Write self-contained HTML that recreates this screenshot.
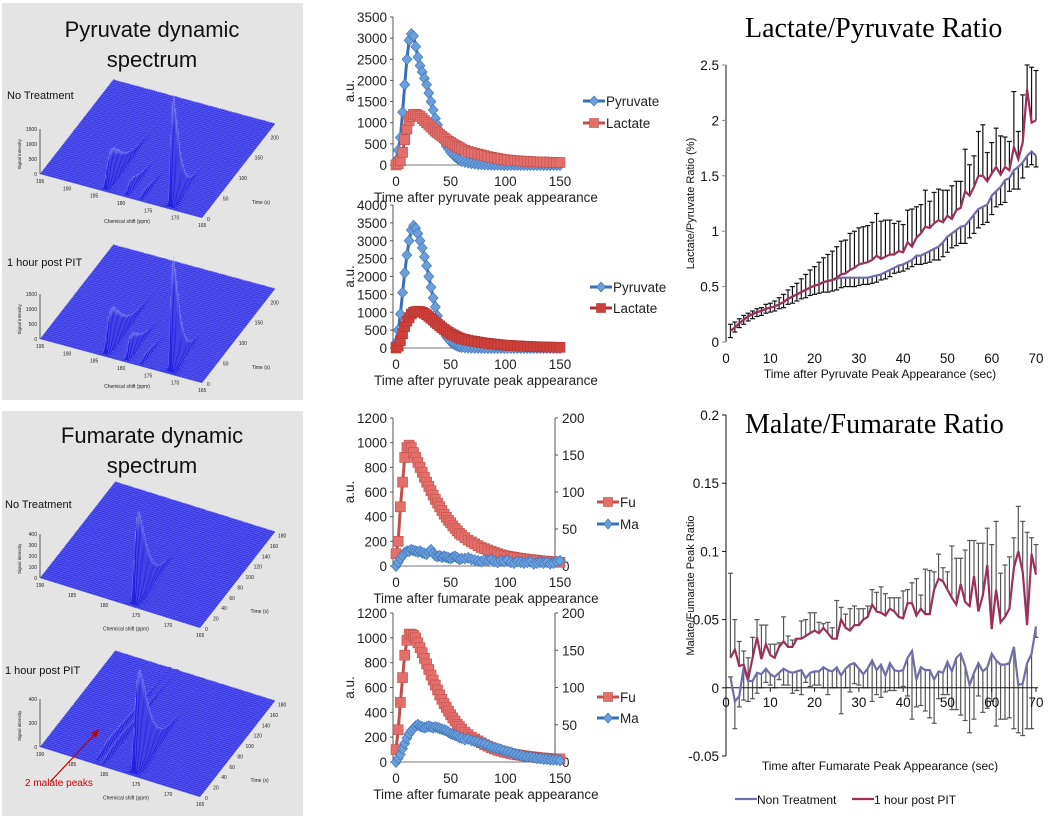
<!DOCTYPE html>
<html><head><meta charset="utf-8">
<style>
html,body{margin:0;padding:0;background:#fff;}
svg{display:block;font-family:"Liberation Sans",Arial,sans-serif;}
</style></head>
<body>
<svg id="fig" width="1057" height="816" viewBox="0 0 1057 816" xmlns="http://www.w3.org/2000/svg">
  <rect x="2" y="3" width="301" height="397" fill="#e4e4e4"/>
  <rect x="2" y="411" width="301" height="405" fill="#e4e4e4"/>
  <text x="152" y="37" font-size="22" text-anchor="middle" fill="#111">Pyruvate dynamic</text>
  <text x="152" y="67" font-size="22" text-anchor="middle" fill="#111">spectrum</text>
  <text x="152" y="443" font-size="22" text-anchor="middle" fill="#111">Fumarate dynamic</text>
  <text x="152" y="473" font-size="22" text-anchor="middle" fill="#111">spectrum</text>
  <text x="7" y="99" font-size="11" fill="#111">No Treatment</text>
  <text x="7" y="266" font-size="11" fill="#111">1 hour post PIT</text>
  <text x="5" y="508" font-size="11" fill="#111">No Treatment</text>
  <text x="5" y="674" font-size="11" fill="#111">1 hour post PIT</text>
  <g id="spectra"></g>
  <g id="mid"></g>
  <g id="ratio"></g>
  <text x="745" y="37" font-size="28" font-family="Liberation Serif,serif" fill="#000">Lactate/Pyruvate Ratio</text>
  <text x="745" y="433" font-size="28" font-family="Liberation Serif,serif" fill="#000">Malate/Fumarate Ratio</text>
</svg>
<script>
// ---------- data: middle charts ----------
const timeGrid = [0,2,4,6,8,10,12,14,16,18,20,22,24,26,28,30,32,34,36,38,40,42,44,46,48,50,52,54,56,58,60,63,66,69,72,75,78,81,84,87,90,93,96,99,102,105,108,111,114,117,120,123,126,129,132,135,138,141,144,147,150];
const pyruvate1 = [100,350,650,1250,1900,2500,2950,3100,3050,2800,2550,2350,2200,2050,1900,1700,1500,1300,1100,950,800,650,550,450,380,300,250,200,160,120,90,70,55,40,30,20,15,10,8,5,3,2,1,0,0,0,0,0,0,0,0,0,0,0,0,0,0,0,0,0,0];
const lactate1 = [0,30,100,300,600,850,1050,1150,1200,1200,1180,1150,1100,1050,1000,950,900,850,800,760,720,680,640,600,560,530,500,470,440,410,380,350,320,300,280,260,240,220,200,185,170,155,140,130,120,110,105,100,95,90,85,80,78,75,72,70,68,65,63,60,60];
const pyruvate2 = [150,500,950,1550,2100,2600,3000,3300,3420,3350,3200,3000,2800,2550,2300,2000,1700,1400,1150,900,700,550,420,320,250,180,130,90,60,40,25,15,10,5,3,1,0,0,0,0,0,0,0,0,0,0,0,0,0,0,0,0,0,0,0,0,0,0,0,0,0];
const lactate2 = [0,50,200,400,600,750,850,950,1000,1020,1030,1020,1000,970,930,880,830,780,720,670,620,570,520,480,440,400,370,340,310,280,260,240,220,200,185,170,155,140,130,120,110,100,90,80,75,70,65,60,55,50,45,40,38,35,32,30,28,25,22,20,20];
const fumarate1 = [100,200,480,680,880,960,980,960,920,880,840,800,760,720,680,645,610,575,540,510,480,450,420,395,370,350,325,305,285,265,250,230,210,195,180,165,150,140,130,120,110,100,92,85,80,75,70,66,62,58,55,52,49,46,43,40,38,36,34,32,30];
const fumarate2 = [100,260,480,680,860,980,1030,1030,1020,1000,960,920,880,835,790,745,700,660,620,580,540,505,470,440,410,380,355,330,305,285,265,240,220,200,185,170,155,140,128,116,105,95,88,80,74,68,62,58,54,50,46,43,40,37,34,32,30,28,26,25,25];
const malate1 = [0,5,10,14,18,20,20,22,21,20,19,20,18,17,16,19,22,17,14,13,14,12,13,12,11,10,12,13,11,9,10,10,11,9,8,7,6,8,7,9,6,5,7,6,8,5,4,6,5,4,5,6,3,4,5,4,5,3,4,6,7];
const malate2 = [0,5,10,18,25,32,38,42,45,48,50,48,47,46,47,48,47,46,47,46,45,44,43,42,40,38,37,36,35,33,32,30,31,29,28,27,25,24,22,20,19,18,17,15,14,13,11,10,9,8,7,7,6,5,5,4,4,3,3,3,2];
const pyrTicks1 = [0,500,1000,1500,2000,2500,3000,3500];
const pyrTicks2 = [0,500,1000,1500,2000,2500,3000,3500,4000];
const fumTicks = [0,200,400,600,800,1000,1200];
const malTicks = [0,50,100,150,200];
const timeTicks = [0,50,100,150];
// ---------- data: ratio charts ----------
const lpPIT = [0.10,0.13,0.17,0.20,0.23,0.25,0.27,0.28,0.30,0.31,0.32,0.34,0.36,0.39,0.41,0.43,0.45,0.47,0.49,0.51,0.52,0.54,0.55,0.56,0.58,0.61,0.62,0.65,0.67,0.70,0.71,0.72,0.74,0.78,0.75,0.77,0.79,0.79,0.82,0.81,0.90,0.86,0.94,0.98,1.04,1.03,1.07,1.10,1.08,1.14,1.11,1.19,1.21,1.36,1.32,1.40,1.50,1.50,1.45,1.52,1.58,1.51,1.58,1.55,1.76,1.65,1.80,2.28,1.98,2.00];
const lpPITerr = [0.06,0.05,0.04,0.04,0.03,0.03,0.03,0.03,0.04,0.04,0.05,0.06,0.07,0.08,0.09,0.10,0.12,0.14,0.16,0.17,0.20,0.22,0.24,0.26,0.28,0.30,0.30,0.33,0.33,0.33,0.33,0.33,0.34,0.38,0.34,0.33,0.31,0.28,0.27,0.25,0.29,0.34,0.28,0.26,0.33,0.24,0.28,0.28,0.29,0.23,0.30,0.26,0.24,0.38,0.28,0.28,0.40,0.46,0.26,0.28,0.35,0.35,0.27,0.26,0.50,0.25,0.43,0.22,0.50,0.45];
const lpNon = [0.10,0.13,0.17,0.20,0.23,0.25,0.27,0.28,0.30,0.31,0.32,0.34,0.36,0.39,0.41,0.43,0.45,0.47,0.49,0.51,0.52,0.54,0.55,0.56,0.57,0.58,0.58,0.58,0.58,0.58,0.58,0.58,0.59,0.60,0.61,0.63,0.65,0.67,0.69,0.70,0.72,0.74,0.78,0.78,0.80,0.82,0.84,0.86,0.90,0.95,0.98,1.01,1.04,1.05,1.10,1.15,1.20,1.22,1.24,1.32,1.36,1.40,1.46,1.48,1.55,1.58,1.62,1.68,1.72,1.68];
const lpNonErr = [0.06,0.04,0.04,0.04,0.04,0.04,0.04,0.04,0.04,0.04,0.04,0.04,0.05,0.05,0.06,0.06,0.06,0.07,0.07,0.08,0.08,0.09,0.10,0.10,0.10,0.09,0.08,0.08,0.08,0.07,0.06,0.06,0.06,0.06,0.05,0.06,0.06,0.05,0.06,0.06,0.06,0.06,0.08,0.08,0.09,0.10,0.10,0.12,0.13,0.14,0.13,0.14,0.15,0.16,0.16,0.17,0.17,0.16,0.16,0.17,0.14,0.16,0.20,0.12,0.17,0.20,0.14,0.10,0.12,0.10];
const mfPIT = [0.022,0.028,0.016,0.017,0.006,0.022,0.037,0.021,0.032,0.024,0.022,0.030,0.034,0.030,0.030,0.036,0.036,0.038,0.040,0.042,0.040,0.044,0.040,0.036,0.036,0.050,0.044,0.042,0.046,0.046,0.050,0.052,0.061,0.056,0.055,0.053,0.058,0.056,0.052,0.051,0.062,0.062,0.053,0.058,0.054,0.054,0.072,0.080,0.078,0.072,0.066,0.061,0.076,0.063,0.060,0.082,0.056,0.068,0.090,0.043,0.072,0.048,0.052,0.058,0.088,0.100,0.085,0.046,0.098,0.083];
const mfPITerr = [0.062,0.022,0.018,0.010,0.016,0.015,0.013,0.025,0.014,0.008,0.010,0.003,0.018,0.008,0.005,0.000,0.013,0.012,0.015,0.013,0.008,0.003,0.008,0.008,0.028,0.009,0.010,0.016,0.014,0.012,0.008,0.008,0.011,0.014,0.019,0.016,0.008,0.010,0.014,0.020,0.010,0.015,0.027,0.010,0.033,0.032,0.013,0.018,0.010,0.013,0.038,0.034,0.019,0.038,0.048,0.026,0.050,0.038,0.027,0.062,0.050,0.036,0.038,0.038,0.022,0.033,0.037,0.068,0.012,0.022];
const mfNon = [0.008,-0.010,-0.006,0.015,0.005,0.005,0.011,0.010,0.014,0.010,0.008,0.011,0.014,0.012,0.011,0.012,0.013,0.007,0.011,0.012,0.012,0.015,0.013,0.012,0.015,0.009,0.014,0.017,0.018,0.014,0.010,0.014,0.020,0.013,0.017,0.009,0.018,0.013,0.012,0.013,0.022,0.027,0.006,0.015,0.013,0.013,0.006,0.012,0.011,0.019,0.012,0.022,0.025,0.016,0.002,0.011,0.018,0.012,0.015,0.025,0.020,0.017,0.017,0.018,0.030,0.002,0.003,0.018,0.025,0.045];
const mfNonErr = [0.000,0.020,0.008,0.024,0.015,0.013,0.015,0.010,0.010,0.008,0.008,0.005,0.012,0.010,0.015,0.014,0.018,0.003,0.010,0.010,0.010,0.015,0.018,0.012,0.015,0.028,0.014,0.020,0.015,0.012,0.010,0.014,0.030,0.018,0.024,0.012,0.020,0.015,0.012,0.012,0.028,0.050,0.020,0.028,0.030,0.035,0.032,0.020,0.016,0.024,0.028,0.038,0.045,0.040,0.035,0.034,0.024,0.030,0.030,0.035,0.048,0.040,0.040,0.040,0.060,0.035,0.038,0.048,0.055,0.008];
const lpTicks = [0,0.5,1,1.5,2,2.5];
const lpTickLabels = ["0","0.5","1","1.5","2","2.5"];
const mfTicks = [-0.05,0,0.05,0.1,0.15,0.2];
const mfTickLabels = ["-0.05","0","0.05","0.1","0.15","0.2"];
const ratioXTicks = [0,10,20,30,40,50,60,70];

const NS = "http://www.w3.org/2000/svg";
function mk(parent, tag, attrs, txt){
  const e = document.createElementNS(NS, tag);
  for (const k in attrs) e.setAttribute(k, attrs[k]);
  if (txt !== undefined) e.textContent = txt;
  parent.appendChild(e);
  return e;
}

// ---------- 3D spectra (decorative rendering) ----------
const specG = document.getElementById('spectra');
function spectrum(name, FL, fv, tv, peaks, ticksS, ticksT, sigTicks, sigScale){
  const g = mk(specG, 'g', {});
  
  
  const FR = [FL[0]+fv[0], FL[1]+fv[1]];
  const plane = mk(g, 'polygon', {points:`${FL[0]},${FL[1]} ${FR[0]},${FR[1]} ${FR[0]+tv[0]},${FR[1]+tv[1]} ${FL[0]+tv[0]},${FL[1]+tv[1]}`, fill:'#2a2ae6'});
  
  
  const n = 60;
  for (let j = n-1; j >= 0; j--) {
    const t = j/(n-1);
    const pts = [];
    const base = [];
    for (let i = 0; i <= 160; i++) {
      const u = i/160;
      let h = 1.0*Math.abs(Math.sin(i*1.7+j*2.3));
      for (const p of peaks) {
        const tt = t/p.tp;
        const f = tt*Math.exp(1-tt);
        const d = (u-p.u)/p.w;
        h += p.A*f*(0.8*Math.exp(-d*d) + 0.2/(1+d*d));
      }
      const bx = FL[0]+u*fv[0]+t*tv[0], by = FL[1]+u*fv[1]+t*tv[1];
      pts.push((bx).toFixed(1)+','+(by-h).toFixed(1));
      base.unshift(bx.toFixed(1)+','+by.toFixed(1));
    }
    const poly = mk(g, 'polygon', {points: pts.concat(base).join(' '), fill:'#2222e0', stroke:'#dcdcff', 'stroke-width':'0.3', 'stroke-opacity':'0.6'});
    
    
  }
  const ax = mk(g, 'line', {x1:FL[0], y1:FL[1], x2:FL[0], y2:FL[1]-sigScale*sigTicks[sigTicks.length-1].v, stroke:'#222', 'stroke-width':0.7});
  
  
  for (const s of sigTicks) {
    const y = FL[1]-sigScale*s.v;
    const tl = mk(g, 'text', {x:FL[0]-3, y:y+2, 'font-size':5, 'text-anchor':'end', fill:'#222'}, s.l);
    
    
  }
  const yl = mk(g, 'text', {x:0, y:0, 'font-size':4.5, fill:'#222', transform:`translate(${FL[0]-19},${FL[1]-sigScale*sigTicks[sigTicks.length-1].v/2+18}) rotate(-90)`}, 'Signal intensity');
  
  
  for (const s of ticksS) {
    const x = FL[0]+s.u*fv[0], y = FL[1]+s.u*fv[1];
    const tl = mk(g, 'text', {x:x-4, y:y+9, 'font-size':5, fill:'#222'}, s.l);
    
    
  }
  for (const s of ticksT) {
    const x = FR[0]+s.u*tv[0], y = FR[1]+s.u*tv[1];
    const tl = mk(g, 'text', {x:x+5, y:y+3, 'font-size':5, fill:'#222'}, s.l);
    
    
  }
  const xt = mk(g, 'text', {x:FL[0]+0.55*fv[0]-25, y:FL[1]+0.55*fv[1]+25, 'font-size':5, fill:'#222'}, 'Chemical shift (ppm)');
  
  
  const tt = mk(g, 'text', {x:FR[0]+0.3*tv[0]+28, y:FR[1]+0.3*tv[1]+14, 'font-size':5, fill:'#222'}, 'Time (s)');
  
  
}
const pyrShift = [{u:0,l:'195'},{u:1/6,l:'190'},{u:2/6,l:'185'},{u:3/6,l:'180'},{u:4/6,l:'175'},{u:5/6,l:'170'},{u:1,l:'165'}];
const pyrTime = [{u:0,l:'0'},{u:50/230,l:'50'},{u:100/230,l:'100'},{u:150/230,l:'150'},{u:200/230,l:'200'}];
const pyrSig = [{v:0,l:'0'},{v:500,l:'500'},{v:1000,l:'1000'},{v:1500,l:'1500'}];
const fumShift = [{u:0,l:'190'},{u:0.2,l:'185'},{u:0.4,l:'180'},{u:0.6,l:'175'},{u:0.8,l:'170'},{u:1,l:'165'}];
const fumTime = [0,20,40,60,80,100,120,140,160,180].map(v=>({u:v/185,l:String(v)}));
const fumSig1 = [{v:0,l:'0'},{v:100,l:'100'},{v:200,l:'200'},{v:300,l:'300'},{v:400,l:'400'}];
const fumSig2 = [{v:0,l:'0'},{v:200,l:'200'},{v:400,l:'400'}];
spectrum('pyruvate-spectrum-no-treatment', [40,174], [162,44], [73,-94],
  [{u:0.8,A:110,w:0.008,tp:0.05},{u:0.4,A:34,w:0.01,tp:0.09},{u:0.53,A:12,w:0.008,tp:0.07},{u:0.62,A:6,w:0.008,tp:0.07}],
  pyrShift, pyrTime, pyrSig, 0.03);
spectrum('pyruvate-spectrum-post-pit', [40,339], [162,44], [73,-94],
  [{u:0.8,A:115,w:0.008,tp:0.05},{u:0.4,A:40,w:0.01,tp:0.09},{u:0.53,A:22,w:0.008,tp:0.07},{u:0.62,A:6,w:0.008,tp:0.07}],
  pyrShift, pyrTime, pyrSig, 0.03);
spectrum('fumarate-spectrum-no-treatment', [40,578], [160,50], [75,-96],
  [{u:0.58,A:90,w:0.01,tp:0.07}],
  fumShift, fumTime, fumSig1, 0.11);
spectrum('fumarate-spectrum-post-pit', [40,747], [160,50], [75,-96],
  [{u:0.58,A:100,w:0.011,tp:0.08},{u:0.345,A:8,w:0.008,tp:0.2},{u:0.39,A:8,w:0.008,tp:0.2}],
  fumShift, fumTime, fumSig2, 0.12);
const ann = mk(specG, 'g', {});


mk(ann, 'line', {x1:50, y1:782, x2:97, y2:732, stroke:'#c00000', 'stroke-width':1.2});
mk(ann, 'polygon', {points:'99,729 91,733 96,738', fill:'#c00000'});
mk(ann, 'text', {x:25, y:786, 'font-size':10, fill:'#d00000'}, '2 malate peaks');

// ---------- middle charts ----------
const mid = document.getElementById('mid');
function xm(t){ return 396 + t*164/150; }
function midChart(name, y0, yTop, ymax, ticks, left, right, rmax, rTicks, legend, legY, legX, title, clipW){
  const g = mk(mid, 'g', {});
  
  
  const ys = v => y0 - v*(y0-yTop)/ymax;
  const yr = v => y0 - v*(y0-yTop)/rmax;
  const yax = mk(g, 'line', {x1:393, y1:yTop, x2:393, y2:y0, stroke:'#555', 'stroke-width':1});
  
  
  for (const v of ticks) {
    const tl = mk(g, 'text', {x:387, y:ys(v)+5, 'font-size':13.5, 'text-anchor':'end', fill:'#222'}, String(v));
    
    
    mk(g, 'line', {x1:390, y1:ys(v), x2:393, y2:ys(v), stroke:'#555'});
  }
  if (rTicks) {
    const rax = mk(g, 'line', {x1:555, y1:yTop, x2:555, y2:y0, stroke:'#555', 'stroke-width':1});
    
    
    for (const v of rTicks) {
      const tl = mk(g, 'text', {x:562, y:yr(v)+5, 'font-size':13.5, fill:'#222'}, String(v));
      
      
      mk(g, 'line', {x1:555, y1:yr(v), x2:558, y2:yr(v), stroke:'#555'});
    }
  }
  const xax = mk(g, 'line', {x1:393, y1:y0, x2:560, y2:y0, stroke:'#777', 'stroke-width':1});
  
  
  for (const v of timeTicks) {
    const tl = mk(g, 'text', {x:xm(v), y:y0+21, 'font-size':13.5, 'text-anchor':'middle', fill:'#222'}, String(v));
    
    
  }
  const xt = mk(g, 'text', {x:486, y:y0+37, 'font-size':13.5, 'text-anchor':'middle', fill:'#222'}, title);
  
  
  const yt = mk(g, 'text', {x:0, y:0, 'font-size':13.5, 'text-anchor':'middle', fill:'#222', transform:`translate(354,${(y0+yTop)/2}) rotate(-90)`}, 'a.u.');
  
  
  for (const s of [left, right]) {
    const yf = s.axis === 'r' ? yr : ys;
    const sg = mk(g, 'g', {});
    
    
    const pts = s.t.map((t,i)=> xm(t).toFixed(1)+','+yf(s.v[i]).toFixed(1)).join(' ');
    mk(sg, 'polyline', {points:pts, fill:'none', stroke:s.line, 'stroke-width':3});
    s.t.forEach((t,i)=>{
      const x = xm(t), y = yf(s.v[i]);
      let m;
      if (s.shape === 'd') m = mk(sg, 'polygon', {points:`${x},${y-5.5} ${x+5},${y} ${x},${y+5.5} ${x-5},${y}`, fill:s.fill, stroke:s.line, 'stroke-width':0.6});
      else m = mk(sg, 'rect', {x:x-5, y:y-5, width:10, height:10, fill:s.fill, stroke:s.line, 'stroke-width':0.6});
      
      
    });
  }
  const lg = mk(g, 'g', {});
  
  
  legend.forEach((s,i)=>{
    const y = legY[i];
    const e = mk(lg, 'g', {});
    
    
    mk(e, 'line', {x1:legX, y1:y, x2:legX+22, y2:y, stroke:s.line, 'stroke-width':3});
    const x = legX+11;
    if (s.shape === 'd') mk(e, 'polygon', {points:`${x},${y-5} ${x+4.5},${y} ${x},${y+5} ${x-4.5},${y}`, fill:s.fill, stroke:s.line, 'stroke-width':0.6});
    else mk(e, 'rect', {x:x-4.5, y:y-4.5, width:9, height:9, fill:s.fill, stroke:s.line, 'stroke-width':0.6});
    const tx = mk(e, 'text', {x:legX+23, y:y+5, 'font-size':13.5, fill:'#222'}, clipW ? s.label.slice(0,2) : s.label);
    
    
  });
}
const BL = '#3a6fb5', BF = '#6a9fdc', RL = '#c0504d', RF = '#e46e6a';
midChart('pyruvate-lactate-chart-no-treatment', 165, 17, 3500, pyrTicks1,
  {name:'pyruvate', t:timeGrid, v:pyruvate1, shape:'d', line:BL, fill:BF},
  {name:'lactate', t:timeGrid, v:lactate1, shape:'s', line:RL, fill:RF},
  null, null,
  [{label:'Pyruvate', shape:'d', line:BL, fill:BF},{label:'Lactate', shape:'s', line:RL, fill:RF}], [101,123], 583,
  'Time after pyruvate peak appearance', false);
midChart('pyruvate-lactate-chart-post-pit', 348, 205, 4000, pyrTicks2,
  {name:'pyruvate', t:timeGrid, v:pyruvate2, shape:'d', line:BL, fill:BF},
  {name:'lactate', t:timeGrid, v:lactate2, shape:'s', line:'#b03530', fill:'#d0403a'},
  null, null,
  [{label:'Pyruvate', shape:'d', line:BL, fill:BF},{label:'Lactate', shape:'s', line:'#b03530', fill:'#d0403a'}], [287,308], 590,
  'Time after pyruvate peak appearance', false);
midChart('fumarate-malate-chart-no-treatment', 566, 418, 1200, fumTicks,
  {name:'fumarate', t:timeGrid, v:fumarate1, shape:'s', line:RL, fill:RF},
  {name:'malate', t:timeGrid, v:malate1, shape:'d', line:BL, fill:BF, axis:'r'},
  200, malTicks,
  [{label:'Fumarate', shape:'s', line:RL, fill:RF},{label:'Malate', shape:'d', line:BL, fill:BF}], [502,524], 597,
  'Time after fumarate peak appearance', true);
midChart('fumarate-malate-chart-post-pit', 762, 613, 1200, fumTicks,
  {name:'fumarate', t:timeGrid, v:fumarate2, shape:'s', line:RL, fill:RF},
  {name:'malate', t:timeGrid, v:malate2, shape:'d', line:BL, fill:BF, axis:'r'},
  200, malTicks,
  [{label:'Fumarate', shape:'s', line:RL, fill:RF},{label:'Malate', shape:'d', line:BL, fill:BF}], [697,718], 597,
  'Time after fumarate peak appearance', true);

// ---------- ratio charts ----------
const rg = document.getElementById('ratio');
function xr(t){ return 726 + t*310/70; }
function ratioChart(name, yTop, yBot, vmin, vmax, ticks, tickLabels, pit, pitErr, non, nonErr, barColor, axisColor, axisW, xAxisVal, xLabelY, ylabel, xtitle, xtitleY, showXLine){
  const g = mk(rg, 'g', {});
  
  
  const y = v => yBot - (v - vmin)*(yBot-yTop)/(vmax-vmin);
  const yax = mk(g, 'line', {x1:726, y1:yTop, x2:726, y2:yBot, stroke:axisColor, 'stroke-width':axisW});
  
  
  ticks.forEach((v,i)=>{
    mk(g, 'line', {x1:722, y1:y(v), x2:726, y2:y(v), stroke:axisColor});
    const tl = mk(g, 'text', {x:719, y:y(v)+5, 'font-size':13.5, 'text-anchor':'end', fill:'#111'}, tickLabels[i]);
    
    
  });
  const eg = mk(g, 'g', {});
  
  
  pit.forEach((v,i)=>{
    const x = xr(i+1);
    mk(eg, 'line', {x1:x, y1:y(v), x2:x, y2:y(v+pitErr[i]), stroke:barColor, 'stroke-width':1.2});
    mk(eg, 'line', {x1:x-2.5, y1:y(v+pitErr[i]), x2:x+2.5, y2:y(v+pitErr[i]), stroke:barColor, 'stroke-width':1.2});
  });
  non.forEach((v,i)=>{
    const x = xr(i+1);
    mk(eg, 'line', {x1:x, y1:y(v), x2:x, y2:y(v-nonErr[i]), stroke:barColor, 'stroke-width':1.2});
    mk(eg, 'line', {x1:x-2.5, y1:y(v-nonErr[i]), x2:x+2.5, y2:y(v-nonErr[i]), stroke:barColor, 'stroke-width':1.2});
  });
  if (showXLine) {
    const xax = mk(g, 'line', {x1:726, y1:y(xAxisVal), x2:1038, y2:y(xAxisVal), stroke:'#111', 'stroke-width':1});
    
    
  }
  ratioXTicks.forEach(v=>{
    if (showXLine) mk(g, 'line', {x1:xr(v), y1:y(xAxisVal), x2:xr(v), y2:y(xAxisVal)+4, stroke:'#111'});
    const tl = mk(g, 'text', {x:xr(v), y:xLabelY, 'font-size':13.5, 'text-anchor':'middle', fill:'#111'}, String(v));
    
    
  });
  const nl = mk(g, 'polyline', {points:non.map((v,i)=>xr(i+1).toFixed(1)+','+y(v).toFixed(1)).join(' '), fill:'none', stroke:'#6f6fa8', 'stroke-width':2.2});
  
  
  const pl = mk(g, 'polyline', {points:pit.map((v,i)=>xr(i+1).toFixed(1)+','+y(v).toFixed(1)).join(' '), fill:'none', stroke:'#9e2f5c', 'stroke-width':2.2});
  
  
  const yt = mk(g, 'text', {x:0, y:0, 'font-size':11, 'text-anchor':'middle', fill:'#111', transform:`translate(694,${(yTop+yBot)/2}) rotate(-90)`}, ylabel);
  
  
  const xt = mk(g, 'text', {x:880, y:xtitleY, 'font-size':12, 'text-anchor':'middle', fill:'#111'}, xtitle);
  
  
}
ratioChart('lactate-pyruvate-ratio-chart', 65, 342, 0, 2.5, lpTicks, lpTickLabels, lpPIT, lpPITerr, lpNon, lpNonErr, '#111', '#888', 2, 0, 363, 'Lactate/Pyruvate Ratio (%)', 'Time after Pyruvate Peak Appearance (sec)', 378, false);
ratioChart('malate-fumarate-ratio-chart', 415, 756, -0.05, 0.2, mfTicks, mfTickLabels, mfPIT, mfPITerr, mfNon, mfNonErr, '#555', '#111', 1, 0, 707, 'Malate/Fumarate Peak Ratio', 'Time after Fumarate Peak Appearance (sec)', 770, true);
const leg = mk(rg, 'g', {});


const le1 = mk(leg, 'g', {});


mk(le1, 'line', {x1:735, y1:799, x2:757, y2:799, stroke:'#6f6fa8', 'stroke-width':2.2});
mk(le1, 'text', {x:757, y:804, 'font-size':12, fill:'#111'}, 'Non Treatment');
const le2 = mk(leg, 'g', {});


mk(le2, 'line', {x1:852, y1:799, x2:874, y2:799, stroke:'#9e2f5c', 'stroke-width':2.2});
mk(le2, 'text', {x:874, y:804, 'font-size':12, fill:'#111'}, '1 hour post PIT');
</script>
</body></html>
